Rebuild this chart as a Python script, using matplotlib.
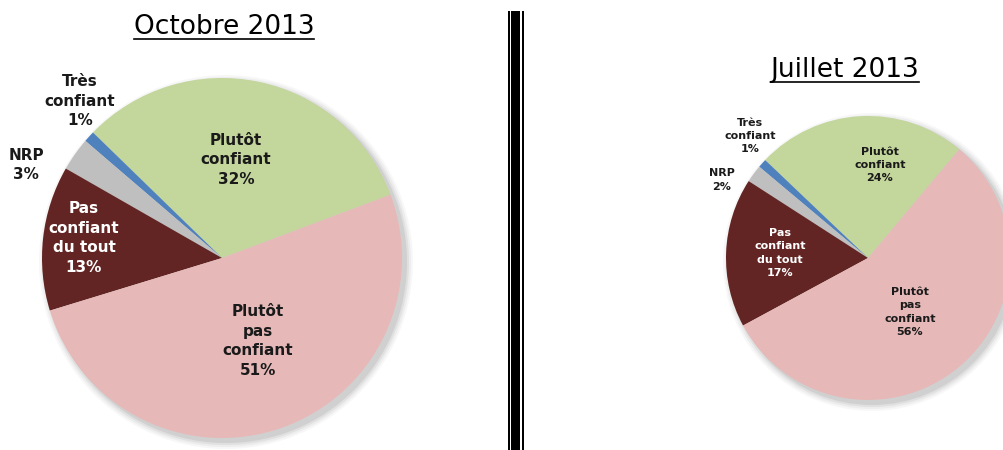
import matplotlib.pyplot as plt
from matplotlib.patches import Circle, Rectangle

# data
labels = ["Plutôt\nconfiant", "Très\nconfiant", "NRP", "Pas\nconfiant\ndu tout", "Plutôt\npas\nconfiant"]
oct_2013 = [32, 1, 3, 13, 51]
jul_2013 = [24, 1, 2, 17, 56]
colors = ["#c3d69b", "#4f81bd", "#bfbfbf", "#632523", "#e6b9b8"]
text_colors = ["#1a1a1a", "#1a1a1a", "#1a1a1a", "white", "#1a1a1a"]

W, H = 1004, 450
fig = plt.figure(figsize=(W / 100, H / 100), dpi=100)
ax = fig.add_axes([0, 0, 1, 1])


def draw_pie(values, cx, cy, r, start, label_pos, fs):
    # soft shadow
    for k, a in [(7, 0.05), (5, 0.07), (3, 0.1), (1, 0.14)]:
        ax.add_patch(Circle((cx + 4, cy - 4), r + k, color="#707070", alpha=a, lw=0, zorder=1))
    ax.pie(values, colors=colors, startangle=start, counterclock=True,
           center=(cx, cy), radius=r, frame=True,
           wedgeprops=dict(linewidth=0, zorder=2))
    for lab, v, (tx, ty), tc in zip(labels, values, label_pos, text_colors):
        ax.text(tx, H - ty, f"{lab}\n{v}%", ha="center", va="center", fontsize=fs,
                fontweight="bold", color=tc, linespacing=1.4, zorder=5)


draw_pie(oct_2013, 222, H - 258, 180, 20.6,
         [(236, 160), (80, 101), (26, 165), (84, 238), (258, 341)], 11)
draw_pie(jul_2013, 868, H - 258, 142, 50,
         [(880, 165), (750, 136), (722, 180), (780, 253), (910, 312)], 8)

ax.set_xlim(0, W)
ax.set_ylim(0, H)
ax.set_aspect("auto")
ax.axis("off")


# titles with underline
def title(x, y, s):
    t = fig.text(x / W, 1 - y / H, s, ha="center", va="center", fontsize=19, color="black")
    fig.canvas.draw()
    bb = t.get_window_extent()
    ax.plot([bb.x0, bb.x1], [bb.y0 + 1, bb.y0 + 1], color="black", lw=1.2, zorder=6)


title(224, 27, "Octobre 2013")
title(845, 70, "Juillet 2013")

# divider
ax.add_patch(Rectangle((508, 0), 2, H - 11, color="black", lw=0))
ax.add_patch(Rectangle((511, 0), 9, H - 11, color="black", lw=0))
ax.add_patch(Rectangle((522, 0), 2, H - 11, color="black", lw=0))

fig.savefig("out.png", dpi=100)
